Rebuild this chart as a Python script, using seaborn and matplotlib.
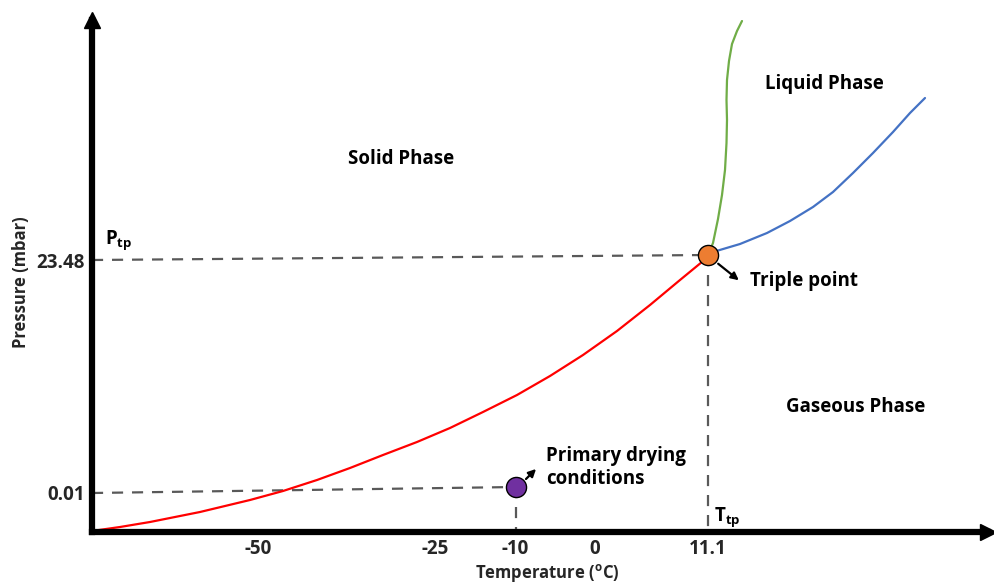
import matplotlib
matplotlib.use("Agg")
import matplotlib.pyplot as plt
import seaborn as sns
import numpy as np

# schematic diagram units (not to scale)
solid_gas_x = [0, 28, 58, 83, 108, 133, 158, 191, 225, 258, 291, 325, 358, 391,
               425, 458, 491, 525, 558, 588, 616]
solid_gas_y = [1, 5, 10, 15, 20, 26, 32, 41, 52, 64, 77, 90, 104, 120,
               137, 156, 177, 201, 227, 252, 275]
solid_liq_x = [616, 621, 626, 630, 633, 634.5, 635, 634.5, 635, 637, 640, 645, 650]
solid_liq_y = [277, 289, 313, 337, 362, 389, 412, 432, 452, 471, 488, 501, 511]
liq_gas_x = [616, 621, 648, 675, 698, 721, 741, 761, 781, 801, 818, 833]
liq_gas_y = [277, 280, 288, 299, 311, 325, 340, 359, 379, 400, 419, 434]

tp_x, tp_y = 616, 277
dry_x, dry_y = 424, 45

xtick_pos = [166, 343, 423, 503, 616]
xtick_labels = ["-50", "-25", "-10", "0", "11.1"]
ytick_pos = [272, 39]
ytick_labels = ["23.48", "0.01"]

sns.set_style("white")
plt.rcParams["font.family"] = ["Open Sans", "DejaVu Sans"]
plt.rcParams["mathtext.default"] = "regular"

fig = plt.figure(figsize=(9.95, 5.85), dpi=100)
# axes origin placed where the diagram axes cross
ax = fig.add_axes([92 / 995, 53 / 585, 896 / 995, 512 / 585])
ax.set_xlim(0, 896)
ax.set_ylim(0, 512)

# phase boundaries
line_kw = dict(sort=False, estimator=None, lw=1.6, ax=ax)
sns.lineplot(x=solid_gas_x, y=solid_gas_y, color="#FF0000", **line_kw)
sns.lineplot(x=solid_liq_x, y=solid_liq_y, color="#70AD47", **line_kw)
sns.lineplot(x=liq_gas_x, y=liq_gas_y, color="#4472C4", **line_kw)

# guide lines
dash = dict(color="#595959", lw=1.6, linestyle=(0, (5, 4)), zorder=1)
ax.plot([0, tp_x], [ytick_pos[0], tp_y], **dash)
ax.plot([tp_x, tp_x], [tp_y, 0], **dash)
ax.plot([0, dry_x], [ytick_pos[1], dry_y], **dash)
ax.plot([dry_x, dry_x], [dry_y, 0], **dash)

# triple point and drying point
sns.scatterplot(x=[tp_x], y=[tp_y], s=210, color="#ED7D31", edgecolor="black",
                linewidth=1, zorder=5, ax=ax)
sns.scatterplot(x=[dry_x], y=[dry_y], s=210, color="#7030A0", edgecolor="black",
                linewidth=1, zorder=5, ax=ax)

arrow = dict(arrowstyle="-|>", color="black", lw=1.6, mutation_scale=11)
ax.annotate("", xy=(649, 250), xytext=(624, 270), arrowprops=arrow)
ax.annotate("", xy=(446, 65), xytext=(432, 51), arrowprops=arrow)

txt = dict(fontsize=13.5, fontweight="bold", color="black")
ax.text(658, 251, "Triple point", ha="left", va="center", **txt)
ax.text(454, 64, "Primary drying\nconditions", ha="left", va="center",
        linespacing=1.2, **txt)
ax.text(309, 373, "Solid Phase", ha="center", va="center", **txt)
ax.text(732, 448, "Liquid Phase", ha="center", va="center", **txt)
ax.text(764, 125, "Gaseous Phase", ha="center", va="center", **txt)
ax.text(13, 292, r"P$_{tp}$", ha="left", va="center", **txt)
ax.text(622, 15, r"T$_{tp}$", ha="left", va="center", **txt)

# axes as thick arrows
for side in ["top", "right"]:
    ax.spines[side].set_visible(False)
for side in ["left", "bottom"]:
    ax.spines[side].set_linewidth(4.5)
    ax.spines[side].set_color("black")
ax.plot(0, 1, "^", color="black", ms=12, transform=ax.transAxes, clip_on=False)
ax.plot(1, 0, ">", color="black", ms=12, transform=ax.transAxes, clip_on=False)

ax.set_xticks(xtick_pos)
ax.set_xticklabels(xtick_labels, fontsize=13.5, fontweight="bold")
ax.set_yticks(ytick_pos)
ax.set_yticklabels(ytick_labels, fontsize=13.5, fontweight="bold")
ax.tick_params(axis="both", length=0)
ax.tick_params(axis="x", pad=5)
ax.tick_params(axis="y", pad=5)

ax.set_xlabel("Temperature ($^{o}$C)", fontsize=12, fontweight="bold")
ax.set_ylabel("Pressure (mbar)", fontsize=12, fontweight="bold")
ax.xaxis.set_label_coords(455 / 896, -30 / 512)
ax.yaxis.set_label_coords(-62 / 896, 250 / 512)

fig.savefig("out.png", dpi=100)
